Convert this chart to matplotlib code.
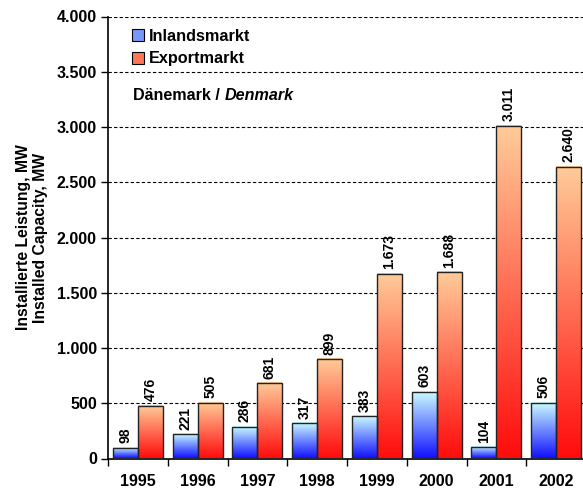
import numpy as np
import matplotlib
matplotlib.use("Agg")
import matplotlib.pyplot as plt
from matplotlib.colors import LinearSegmentedColormap
from matplotlib.patches import Patch
from matplotlib.ticker import FuncFormatter, MultipleLocator

years = ["1995", "1996", "1997", "1998", "1999", "2000", "2001", "2002"]
inland = [98, 221, 286, 317, 383, 603, 104, 506]
export = [476, 505, 681, 899, 1673, 1688, 3011, 2640]
series_names = ["Inlandsmarkt", "Exportmarkt"]
title_text = "Dänemark / "
title_italic = "Denmark"
ylabel = "Installierte Leistung, MW\nInstalled Capacity, MW"

plt.rcParams['font.family'] = ['Liberation Sans', 'DejaVu Sans']
plt.rcParams['font.weight'] = 'bold'

fig = plt.figure(figsize=(5.83, 4.93), dpi=100)
ax = fig.add_axes([108/583, 34.5/493, 478/583, 442/493])

cmap_blue = LinearSegmentedColormap.from_list("b", ["#1111ff", "#ccffff"])
cmap_red = LinearSegmentedColormap.from_list("r", ["#ff0c0c", "#ffcc99"])
grad = np.linspace(0, 1, 256).reshape(-1, 1)

bw = 0.418
x = np.arange(len(years))

def fmt(v):
    return f"{v:,.0f}".replace(",", ".")

for xi, (a, b) in enumerate(zip(inland, export)):
    for val, x0, cm in [(a, xi - bw, cmap_blue), (b, xi, cmap_red)]:
        ax.imshow(grad, extent=[x0, x0 + bw, 0, val], origin='lower', cmap=cm,
                  aspect='auto', zorder=2, interpolation='bilinear')
        ax.bar(x0, val, width=bw, align='edge', facecolor='none',
               edgecolor='#222222', linewidth=1.0, zorder=3)
        ax.text(x0 + bw / 2, val + 40, fmt(val), rotation=90, ha='center',
                va='bottom', fontsize=10, fontweight='bold', zorder=4)

ax.set_xlim(-0.5, len(years) - 0.5)
ax.set_ylim(0, 4000)
ax.yaxis.set_major_locator(MultipleLocator(500))
ax.yaxis.set_major_formatter(FuncFormatter(lambda v, p: fmt(v)))
ax.set_xticks(x)
ax.set_xticklabels(years)
ax.set_xticks(np.arange(-0.5, len(years), 1), minor=True)
ax.tick_params(axis='x', which='major', length=0, pad=11, labelsize=11.5)
ax.tick_params(axis='x', which='minor', length=5, width=1, direction='out')
ax.tick_params(axis='y', length=5, width=1, direction='out', labelsize=11.5, pad=3)
for lab in ax.get_xticklabels() + ax.get_yticklabels():
    lab.set_fontweight('bold')

ax.grid(axis='y', color='black', linestyle=(0, (3, 2)), linewidth=0.8, zorder=1)
ax.set_axisbelow(True)
for s in ['top', 'right']:
    ax.spines[s].set_visible(False)
for s in ['left', 'bottom']:
    ax.spines[s].set_linewidth(1.2)

ax.set_ylabel(ylabel, fontsize=11.3, fontweight='bold', labelpad=6)

handles = [Patch(facecolor="#7799ff", edgecolor="black", linewidth=0.8),
           Patch(facecolor="#ff7755", edgecolor="black", linewidth=0.8)]
leg = ax.legend(handles, series_names, loc='upper left', bbox_to_anchor=(0.02, 1.005),
                frameon=False, handlelength=0.75, handleheight=0.75, handletextpad=0.3,
                labelspacing=0.45, prop={'weight': 'bold', 'size': 11.7})

t1 = ax.text(0.052, 0.822, title_text, transform=ax.transAxes, fontsize=11.6,
             fontweight='bold', ha='left', va='center')
fig.canvas.draw()
bb = t1.get_window_extent().transformed(ax.transAxes.inverted())
ax.text(bb.x1, 0.822, title_italic, transform=ax.transAxes, fontsize=11.6,
        fontweight='bold', fontstyle='italic', ha='left', va='center')

fig.savefig("out.png", dpi=100)
